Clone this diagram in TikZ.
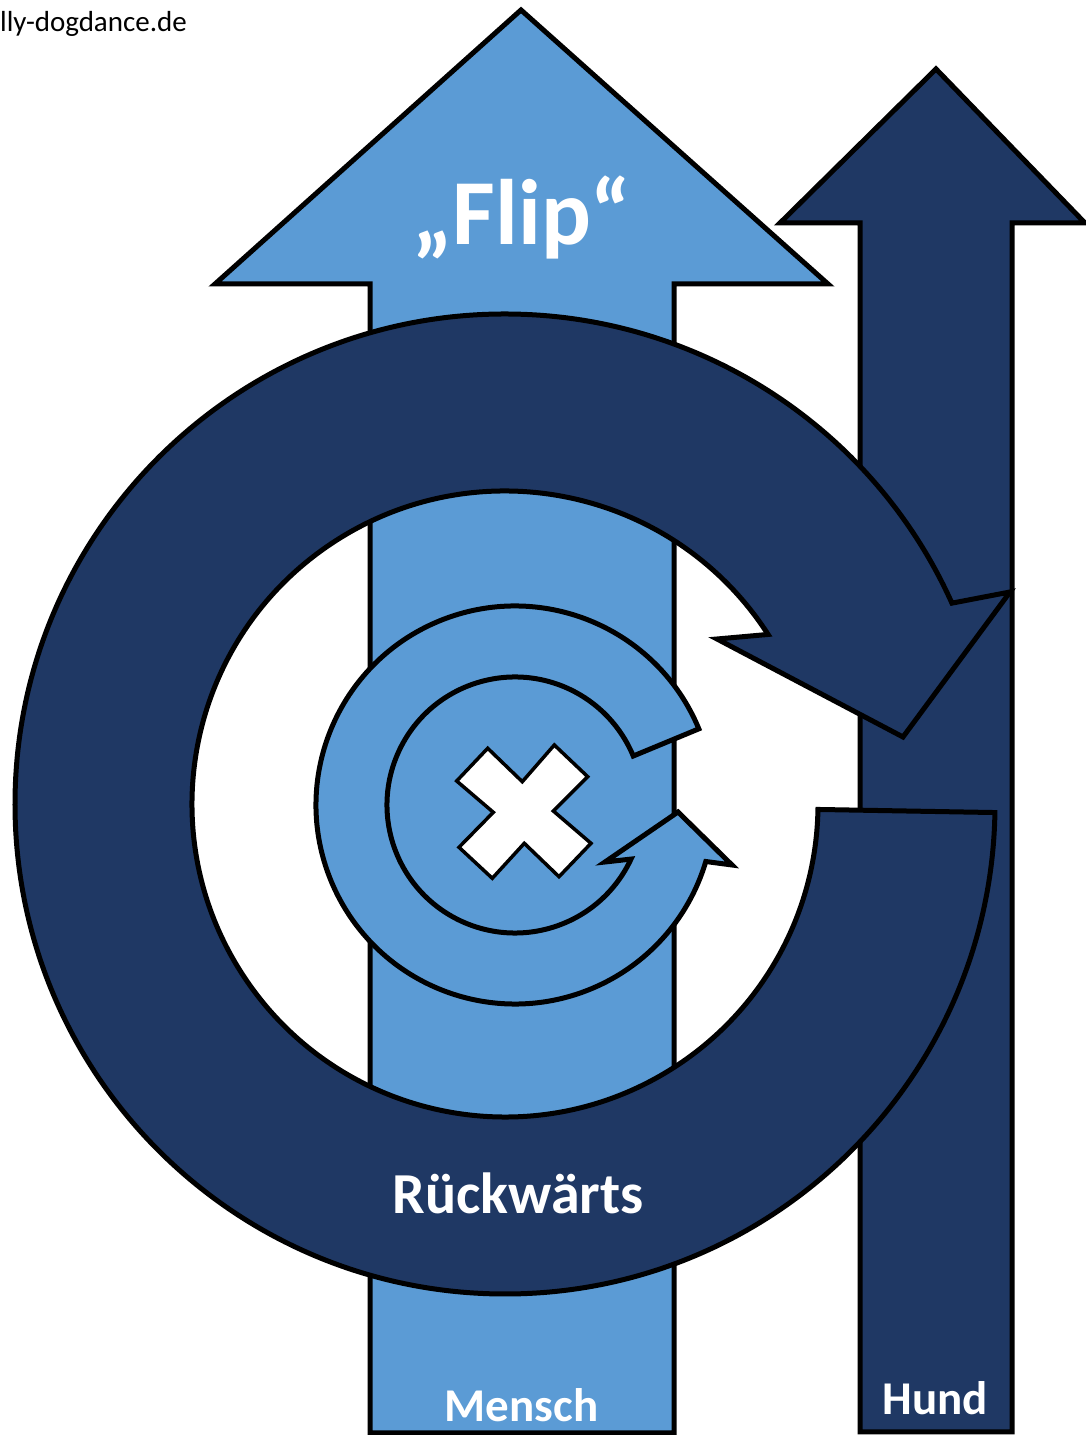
\documentclass[tikz,border=0pt]{standalone}
\usepackage{fontspec}
\setmainfont{Carlito}
\usetikzlibrary{calc}
\definecolor{menschblue}{HTML}{5B9BD5}
\definecolor{hundblue}{HTML}{1F3864}

\begin{document}
\begin{tikzpicture}[
  x=1pt, y=1pt,
  outline/.style={draw=black, line width=5pt, line join=miter},
  light/.style={outline, fill=menschblue},
  dark/.style={outline, fill=hundblue},
  label/.style={text=white, inner sep=0pt, anchor=base}
]
\useasboundingbox (0,0) rectangle (1086,1435);
\coordinate (C) at (505,631); % big ring
\coordinate (c) at (515,630); % small ring

% Mensch arrow
\draw[light] (370,2) -- (370,1151) -- (215,1151) -- (521,1425) -- (828,1151)
  -- (674,1151) -- (674,2) -- cycle;
% Hund arrow
\draw[dark] (860,3) -- (860,1212) -- (780,1212) -- (936,1366) -- (1085,1212)
  -- (1012,1212) -- (1012,3) -- cycle;

% big ring
\draw[dark] ($(C)+(-1:490pt)$) arc[start angle=-1, end angle=-335.8, radius=490pt]
  -- (1010,843) -- (903,698) -- (717,796) -- ($(C)+(32.8:313pt)$)
  arc[start angle=-327.2, end angle=-1, radius=313pt] -- cycle;

% small ring
\draw[light] ($(c)+(22.5:128pt)$) -- ($(c)+(22.5:199pt)$)
  arc[start angle=22.5, end angle=343.5, radius=199pt]
  -- (732,570) -- (678,623) -- (605,573) -- ($(c)+(335:128pt)$)
  arc[start angle=335, end angle=22.5, radius=128pt] -- cycle;

% cross
\draw[outline, line width=3.5pt, fill=white] (456.7,654) -- (487.7,686.7) -- (522.3,653.3)
  -- (554.3,690) -- (587.7,658.3) -- (553.3,624) -- (591,591.7) -- (559,558.3)
  -- (524.3,591.7) -- (492.3,556.7) -- (459,587.7) -- (493.3,622.7) -- cycle;

% labels
\node[label, font=\bfseries\fontsize{93}{110}\selectfont] (flip) at (521.5,1190) {„Flip“};
\node[label, font=\bfseries\fontsize{58}{70}\selectfont] (rueck) at (518,221) {Rückwärts};
\node[label, font=\bfseries\fontsize{47}{56}\selectfont] (mensch) at (521.5,13) {Mensch};
\node[label, font=\bfseries\fontsize{47}{56}\selectfont] (hund) at (935.5,20) {Hund};
\node[anchor=base west, inner sep=0pt, font=\fontsize{29}{34}\selectfont] (url) at (0,1403) {lly-dogdance.de};
\end{tikzpicture}
\end{document}
